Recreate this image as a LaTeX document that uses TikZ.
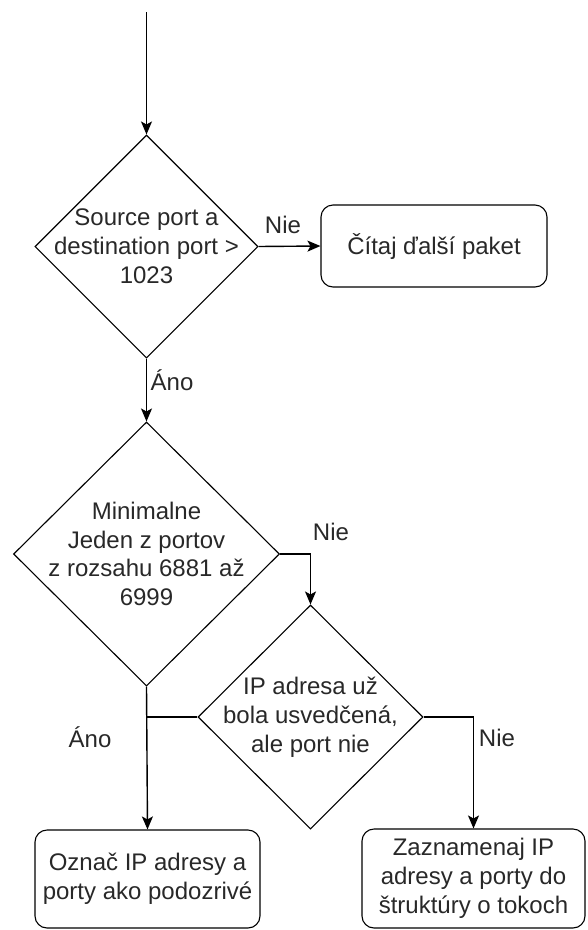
\documentclass[tikz,border=0pt]{standalone}
\usepackage{fontspec}
\setmainfont{Liberation Sans}
\usetikzlibrary{shapes.geometric,arrows.meta}
\definecolor{txtc}{RGB}{40,40,40}
\tikzset{
  dia/.style={draw, shape=diamond, inner sep=0pt, line width=1.1pt},
  rbox/.style={draw, rectangle, rounded corners=12pt, line width=1.1pt, inner sep=0pt},
  txt/.style={align=center, text=txtc, inner sep=0pt, font=\fontsize{24}{28.8}\selectfont},
  lbl/.style={text=txtc, inner sep=0pt, font=\fontsize{24}{28.8}\selectfont},
  conn/.style={line width=1.4pt, -{Stealth[length=13pt,width=11pt,inset=3pt]}},
  plain/.style={line width=1.4pt}
}
\begin{document}
\begin{tikzpicture}[x=1pt,y=-1pt]
\useasboundingbox (0,0) rectangle (588,930);
% shapes
\node[dia, minimum width=223pt, minimum height=223pt] (d1) at (146.5,246.5) {};
\node[txt] (t1) at (d1) {Source port a\\destination port >\\1023};
\node[rbox, minimum width=226pt, minimum height=82pt] (b1) at (434,246) {};
\node[txt] (tb1) at (b1) {Čítaj ďalší paket};
\node[dia, minimum width=266pt, minimum height=264pt] (d2) at (146.5,554) {};
\node[txt] (t2) at (d2) {Minimalne\\Jeden z portov\\z rozsahu 6881 až\\6999};
\node[dia, minimum width=225pt, minimum height=224pt] (d3) at (310.5,717) {};
\node[txt] (t3) at (d3) {IP adresa už\\bola usvedčená,\\ale port nie};
\node[rbox, minimum width=225pt, minimum height=98pt] (b2) at (147.5,879) {};
\node[txt] (tb2) at (b2) {Označ IP adresy a\\porty ako podozrivé};
\node[rbox, minimum width=223pt, minimum height=99pt] (b3) at (473.5,878.5) {};
\node[txt] (tb3) at (b3) {Zaznamenaj IP\\adresy a porty do\\štruktúry o tokoch};
% connectors
\coordinate (start) at (146.5,12);
\draw[conn] (start) -- (d1.north);
\draw[conn] (d1.east) -- (b1.west);
\draw[conn] (d1.south) -- (d2.north);
\draw[conn] (d2.east) -| (d3.north);
\draw[conn] (d2.south) -- (b2.north);
\draw[plain] (d3.west) -- (d3.west -| d2.south);
\draw[conn] (d3.east) -| (b3.north);
% labels
\node[lbl] (l1) at (283,225) {Nie};
\node[lbl] (l2) at (172,380) {Áno};
\node[lbl] (l3) at (331,532) {Nie};
\node[lbl] (l4) at (90,737) {Áno};
\node[lbl] (l5) at (497,738) {Nie};
\end{tikzpicture}
\end{document}
